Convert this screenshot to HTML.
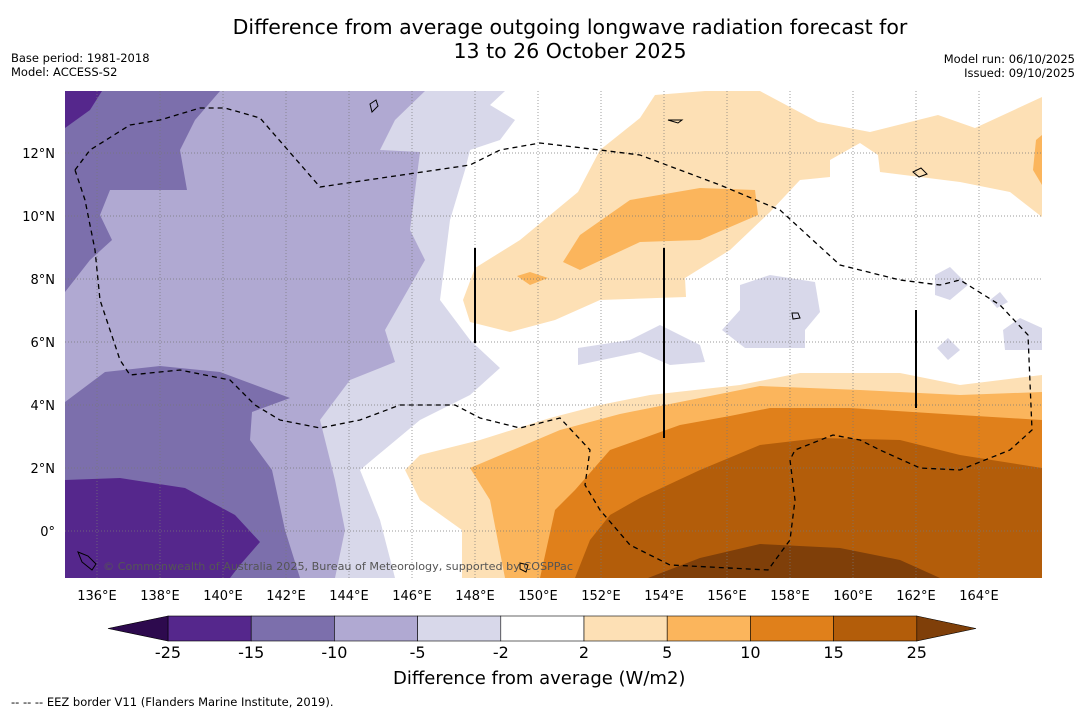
<!DOCTYPE html>
<html><head><meta charset="utf-8">
<style>
body{margin:0;background:#fff;font-family:"DejaVu Sans","Liberation Sans",sans-serif;}
#wrap{position:relative;width:1085px;height:713px;overflow:hidden;background:#fff}
.t{position:absolute;white-space:nowrap;color:#000}
</style></head><body>
<div id="wrap">
<div class="t" style="left:0;width:1140px;text-align:center;top:15px;font-size:20.5px;line-height:24px">Difference from average outgoing longwave radiation forecast for<br>13 to 26 October 2025</div>
<div class="t" style="left:11px;top:51px;font-size:11.5px;line-height:14px">Base period: 1981-2018<br>Model: ACCESS-S2</div>
<div class="t" style="right:10px;top:52px;font-size:11.5px;line-height:14px;text-align:right">Model run: 06/10/2025<br>Issued: 09/10/2025</div>
<div class="t" style="left:11px;top:695px;font-size:11.5px">--  --  -- EEZ border V11 (Flanders Marine Institute, 2019).</div>
<div class="t" style="left:393px;top:668px;font-size:18px">Difference from average (W/m2)</div>
<svg id="svg" width="1085" height="713" style="position:absolute;left:0;top:0">
<defs><clipPath id="clip"><rect x="65" y="91" width="977" height="487"/></clipPath></defs>
<g clip-path="url(#clip)">
<rect x="65" y="91" width="977" height="487" fill="#ffffff"/>
<path fill="#d8d8ea" d="M65,91 L505,91 L490,105 L515,120 L500,140 L470,150 L465,170 L450,220 L440,300 L470,340 L500,368 L470,395 L420,420 L360,470 L380,520 L395,578 L65,578Z"/>
<path fill="#b0a9d2" d="M65,91 L425,91 L395,120 L380,150 L420,152 L410,230 L425,260 L385,330 L395,362 L350,380 L320,420 L335,480 L345,530 L335,578 L65,578Z"/>
<path fill="#7c6fac" d="M65,91 L220,91 L195,120 L180,150 L187,190 L110,190 L100,215 L112,240 L90,260 L65,292Z"/>
<path fill="#7c6fac" d="M65,402 L105,372 L160,366 L220,372 L290,398 L252,412 L250,440 L272,470 L285,530 L300,578 L65,578Z"/>
<path fill="#55278c" d="M65,91 L102,91 L90,110 L65,128Z"/>
<path fill="#55278c" d="M65,480 L120,478 L185,488 L235,515 L260,542 L240,565 L230,578 L65,578Z"/>
<path fill="#fde0b5" d="M655,95 L705,91 L760,91 L818,122 L870,132 L938,115 L975,128 L1042,97 L1042,217 L1010,192 L960,182 L880,172 L800,180 L770,212 L730,250 L685,278 L686,297 L600,300 L555,320 L510,332 L470,322 L463,300 L475,268 L520,240 L578,192 L600,150 L640,118Z"/>
<path fill="#fff" d="M830,160 L860,143 L878,155 L880,172 L860,187 L830,187Z"/>
<path fill="#fde0b5" d="M1042,375 L960,385 L900,373 L800,373 L740,385 L650,395 L600,405 L550,418 L480,440 L420,455 L405,470 L420,500 L462,530 L462,578 L1042,578Z"/>
<path fill="#fbb55c" d="M563,262 L580,235 L630,200 L700,188 L755,190 L758,215 L700,240 L640,242 L580,270Z"/>
<path fill="#fbb55c" d="M517,276 L530,272 L548,278 L530,285Z"/>
<path fill="#fbb55c" d="M1042,392 L960,395 L860,390 L760,386 L700,398 L620,414 L560,430 L470,468 L490,500 L505,578 L1042,578Z"/>
<path fill="#e0801b" d="M1042,420 L960,415 L850,408 L770,408 L730,416 L680,425 L610,450 L575,490 L555,510 L540,578 L1042,578Z"/>
<path fill="#b35d0a" d="M1042,468 L960,455 L900,440 L820,438 L760,445 L700,470 L640,498 L610,515 L590,540 L575,578 L1042,578Z"/>
<path fill="#7f3f09" d="M648,578 L700,558 L760,544 L840,548 L900,560 L940,578Z"/>
<path fill="#fbb55c" d="M1042,135 L1042,185 L1033,170 L1036,140Z"/>
<g fill="#d8d8ea">
<path d="M740,285 L770,275 L815,282 L820,312 L805,330 L805,348 L745,348 L722,330 L740,310Z"/>
<path d="M578,348 L630,340 L660,325 L700,345 L705,362 L670,365 L640,352 L578,365Z"/>
<path d="M935,275 L950,267 L968,285 L950,300 L935,295Z"/>
<path d="M1003,330 L1020,318 L1042,328 L1042,350 L1005,350Z"/>
<path d="M937,348 L948,338 L960,350 L948,360Z"/>
<path d="M990,300 L1000,292 L1008,302 L997,308Z"/>
</g>
</g>
<g id="grid"></g>
<path fill="none" stroke="#000" stroke-width="1.3" stroke-dasharray="5,4" d="M75,170 L90,150 L130,125 L160,120 L200,108 L225,108 L260,118 L320,187 L470,165 L500,150 L540,143 L600,150 L640,155 L680,170 L720,185 L780,210 L840,265 L900,280 L940,285 L960,280 L1000,305 L1028,335 L1032,430 L1010,450 L960,470 L920,468 L880,450 L860,440 L833,435 L795,450 L790,460 L795,500 L790,540 L768,570 L670,565 L630,545 L600,510 L585,485 L590,450 L560,418 L520,428 L480,418 L455,405 L400,405 L360,420 L320,428 L280,420 L255,405 L235,385 L230,380 L180,370 L130,375 L120,360 L100,300 L95,250 L85,200 L75,170"/>
<g stroke="#000" stroke-width="2">
<line x1="475" y1="248" x2="475" y2="343"/><line x1="664" y1="248" x2="664" y2="438"/><line x1="916" y1="310" x2="916" y2="408"/>
</g>
<g fill="none" stroke="#000" stroke-width="1">
<path d="M370,104 l6,-4 l2,6 l-6,6z"/><path d="M668,120 l14,0 l-4,3z"/><path d="M913,172 l8,-4 l6,6 l-8,3z"/><path d="M792,313 l6,0 l2,5 l-7,1z"/><path d="M78,552 l10,4 l8,8 l-4,6 l-10,-8z"/><path d="M520,563 l8,2 l-2,7 l-6,-3z"/>
</g>
<text x="103" y="570" font-size="11" textLength="470" lengthAdjust="spacingAndGlyphs" fill="#555" font-family="DejaVu Sans,sans-serif">© Commonwealth of Australia 2025, Bureau of Meteorology, supported by COSPPac</text>
<g id="axes" font-size="13" font-family="DejaVu Sans,sans-serif"></g>
<g id="cbar"></g>
</svg>
</div>
<script>
const lonTicks=[136,138,140,142,144,146,148,150,152,154,156,158,160,162,164];
const latTicks=[0,2,4,6,8,10,12];
const cbLevels=[-25,-15,-10,-5,-2,2,5,10,15,25];
const cbColors=["#55278c","#7c6fac","#b0a9d2","#d8d8ea","#ffffff","#fde0b5","#fbb55c","#e0801b","#b35d0a"];
const cbUnder="#2d0a4e", cbOver="#7f3f09";
const NS="http://www.w3.org/2000/svg";
const xLon=l=>97+(l-136)*31.5;
const yLat=l=>531-l*31.5;
function mk(t,a,p){const e=document.createElementNS(NS,t);for(const k in a)e.setAttribute(k,a[k]);p.appendChild(e);return e;}
const grid=document.getElementById('grid'),axes=document.getElementById('axes'),cb=document.getElementById('cbar');
lonTicks.forEach(l=>{
 const g=mk('line',{x1:xLon(l),x2:xLon(l),y1:91,y2:578,stroke:'#777','stroke-width':0.7,'stroke-dasharray':'1,2'},grid);
 
 
 const t=mk('text',{x:xLon(l),y:600,'text-anchor':'middle'},axes);t.textContent=l+'°E';
 
 
});
latTicks.forEach(l=>{
 const g=mk('line',{x1:65,x2:1042,y1:yLat(l),y2:yLat(l),stroke:'#777','stroke-width':0.7,'stroke-dasharray':'1,2'},grid);
 
 
 const t=mk('text',{x:55,y:yLat(l)+5,'text-anchor':'end'},axes);t.textContent=l===0?'0°':l+'°N';
 
 
});
const cx=i=>168+i*83.2, cy=616, ch=25;
cbColors.forEach((c,i)=>{
 const r=mk('rect',{x:cx(i),y:cy,width:83.2,height:ch,fill:c,stroke:'#000','stroke-width':0.6},cb);
 
 
});
const n=cbColors.length;
const a=mk('polygon',{points:`${cx(0)},${cy} 108,${cy+ch/2} ${cx(0)},${cy+ch}`,fill:cbUnder,stroke:'#000','stroke-width':0.6},cb);


const b=mk('polygon',{points:`${cx(n)},${cy} 976,${cy+ch/2} ${cx(n)},${cy+ch}`,fill:cbOver,stroke:'#000','stroke-width':0.6},cb);


cbLevels.forEach((v,i)=>{
 const t=mk('text',{x:cx(i),y:658,'text-anchor':'middle','font-size':16,'font-family':'DejaVu Sans,sans-serif'},cb);
 t.textContent=v;
 
 
});
</script>
</body></html>
